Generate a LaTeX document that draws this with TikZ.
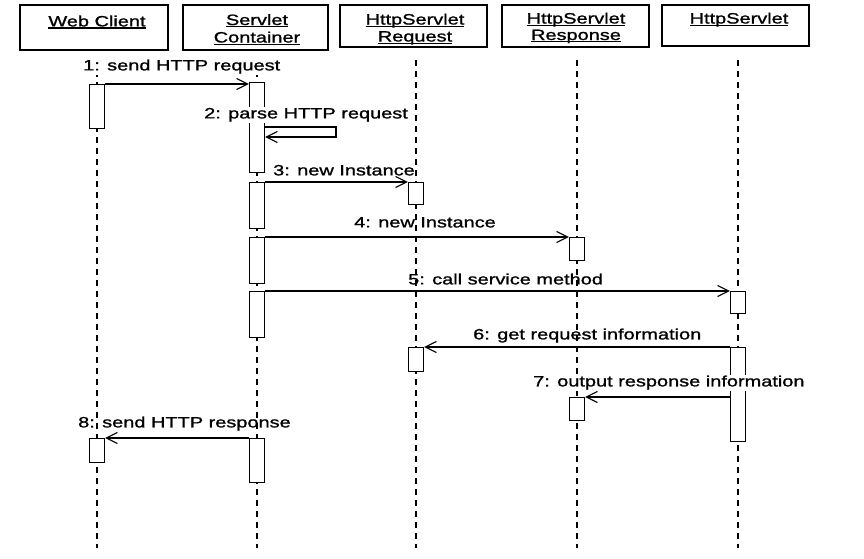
\documentclass[tikz,border=0pt]{standalone}
\usepackage{fontspec}
\setmainfont{Liberation Sans}[FakeStretch=1.33,FakeBold=1.2]
\usetikzlibrary{arrows.meta}
\newcommand{\ulx}[1]{\sbox0{#1}\rlap{\rule[-2.2pt]{\wd0}{1.2pt}}\usebox0}
\begin{document}
\begin{tikzpicture}[x=1pt,y=-1pt,
  hdrbox/.style={draw, line width=1.5pt, inner sep=0pt},
  hdrtxt/.style={anchor=base, inner sep=0pt, font=\fontsize{15}{17.5}\selectfont},
  life/.style={line width=2.2pt, dash pattern=on 6pt off 5pt},
  act/.style={draw, fill=white, line width=1.4pt, minimum width=15pt, inner sep=0pt, anchor=north},
  msg/.style={line width=1.2pt, -{Straight Barb[length=11pt,width=11pt,line width=1.1pt]}},
  lbl/.style={anchor=base west, inner sep=1pt, font=\fontsize{15}{17.5}\selectfont},
  lblw/.style={lbl, fill=white}]
\useasboundingbox (0,0) rectangle (864,558);
% header boxes
\node[hdrbox, minimum width=148pt, minimum height=45pt] (wc) at (94,27.5) {};
\node[hdrbox, minimum width=145pt, minimum height=45pt] (sc) at (255.5,27.5) {};
\node[hdrbox, minimum width=147pt, minimum height=42pt] (rq) at (413.5,26) {};
\node[hdrbox, minimum width=147pt, minimum height=42pt] (rs) at (575.5,26) {};
\node[hdrbox, minimum width=147pt, minimum height=41pt] (hs) at (735.5,25.5) {};
\node[hdrtxt] (wct) at (97,26.4) {\ulx{Web Client}};
\node[hdrtxt] (sct1) at (257,25) {\ulx{Servlet}};
\node[hdrtxt] (sct2) at (257,42.5) {\ulx{Container}};
\node[hdrtxt] (rqt1) at (415,24.5) {\ulx{HttpServlet}};
\node[hdrtxt] (rqt2) at (415,41.5) {\ulx{Request}};
\node[hdrtxt] (rst1) at (576,23.5) {\ulx{HttpServlet}};
\node[hdrtxt] (rst2) at (576,40) {\ulx{Response}};
\node[hdrtxt] (hst) at (739,23.5) {\ulx{HttpServlet}};
% lifelines
\coordinate (l1a) at (97,60);  \coordinate (l1b) at (97,548);
\coordinate (l2a) at (257,60); \coordinate (l2b) at (257,548);
\coordinate (l3a) at (416,60); \coordinate (l3b) at (416,548);
\coordinate (l4a) at (577,60); \coordinate (l4b) at (577,548);
\coordinate (l5a) at (738,60); \coordinate (l5b) at (738,548);
\draw[life] (l1a) -- (l1b);
\draw[life] (l2a) -- (l2b);
\draw[life] (l3a) -- (l3b);
\draw[life] (l4a) -- (l4b);
\draw[life] (l5a) -- (l5b);
% activations
\node[act, minimum height=44pt] (a1) at (97,84) {};
\node[act, minimum height=24pt] (a8) at (97,438) {};
\node[act, minimum height=90pt] (s1) at (257,82) {};
\node[act, minimum height=46pt] (s3) at (257,182) {};
\node[act, minimum height=46pt] (s4) at (257,237) {};
\node[act, minimum height=46pt] (s5) at (257,291) {};
\node[act, minimum height=44pt] (s8) at (257,438) {};
\node[act, minimum height=22pt] (r3) at (416,182) {};
\node[act, minimum height=24pt] (r6) at (416,347) {};
\node[act, minimum height=23pt] (p4) at (577,237) {};
\node[act, minimum height=23pt] (p7) at (577,397) {};
\node[act, minimum height=22pt] (h5) at (738,291) {};
\node[act, minimum height=94pt] (h6) at (738,347) {};
% messages
\draw[msg] (a1.north east) -- (a1.north east -| s1.west);
\coordinate (sc1) at (336,127);
\coordinate (sc2) at (336,137);
\draw[msg] (s1.east |- sc1) -- (sc1) -- (sc2) -- (s1.east |- sc2);
\draw[msg] (s3.north east) -- (r3.north west);
\draw[msg] (s4.north east) -- (p4.north west);
\draw[msg] (s5.north east) -- (h5.north west);
\draw[msg] (h6.north west) -- (r6.north east);
\draw[msg] (h6.west |- p7.north) -- (p7.north east);
\draw[msg] (s8.north west) -- (a8.north east);
% labels
\node[lblw] (m1) at (82,70.4) {1: send HTTP request};
\node[lblw] (m2) at (203,118.4) {2: parse HTTP request};
\node[lbl] (m3) at (272,175.4) {3: new Instance};
\node[lbl] (m4) at (353,227.4) {4: new Instance};
\node[lbl] (m5) at (407,284.4) {5: call service method};
\node[lbl] (m6) at (472,339.4) {6: get request information};
\node[lblw] (m7) at (532,386.4) {7: output response information};
\node[lbl] (m8) at (77,427.4) {8: send HTTP response};
\end{tikzpicture}
\end{document}
